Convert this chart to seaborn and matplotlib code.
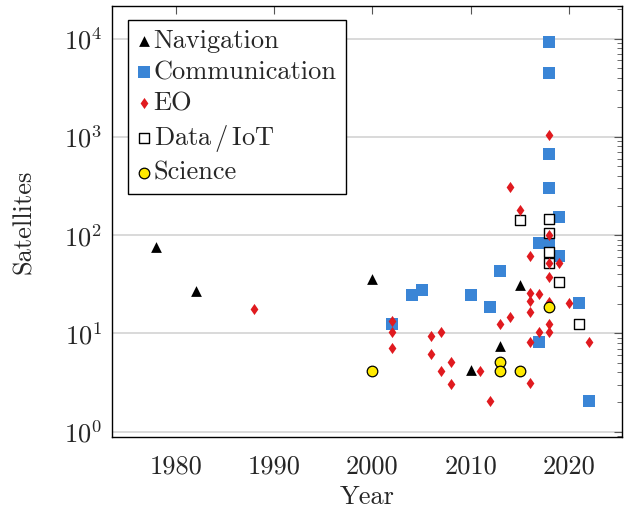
import matplotlib
matplotlib.use("Agg")
import matplotlib.pyplot as plt
import seaborn as sns
from matplotlib.ticker import LogLocator, NullFormatter

# ---------------- data ----------------
nav_years = [1978, 1982, 2000, 2010, 2013, 2015]
nav_sats = [75, 27, 36, 4.2, 7.4, 31]

comm_years = [2002, 2004, 2005, 2010, 2012, 2013, 2017, 2017, 2018, 2018,
              2018, 2018, 2018, 2019, 2019, 2021, 2022]
comm_sats = [12.3, 24.8, 27.5, 24.5, 18.5, 43, 8.2, 83, 83, 9300,
             4500, 670, 300, 153, 61, 20.5, 2.05]

eo_years = [1988, 2002, 2002, 2002, 2006, 2006, 2007, 2007, 2008, 2008,
            2011, 2012, 2013, 2014, 2014, 2015, 2016, 2016, 2016, 2016,
            2016, 2016, 2017, 2017, 2018, 2018, 2018, 2018, 2018, 2018,
            2018, 2019, 2020, 2022]
eo_sats = [17.5, 13.4, 10.2, 7.1, 9.3, 6.2, 10.2, 4.1, 5.1, 3.07,
           4.1, 2.05, 12.3, 310, 14.5, 180, 61, 26, 21.5, 16.5,
           8.2, 3.1, 25, 10.3, 1050, 100, 52, 37.5, 21, 12.5,
           10.3, 52, 20.5, 8.2]

iot_years = [2015, 2018, 2018, 2018, 2018, 2019, 2021]
iot_sats = [142, 145, 105, 67, 52, 33, 12.3]

sci_years = [2000, 2013, 2013, 2015, 2018]
sci_sats = [4.1, 5.1, 4.1, 4.1, 18.5]

categories = ["Navigation", "Communication", "EO", "Data / IoT", "Science"]
legend_labels = ["Navigation", "Communication", "EO", r"Data$\,/\,$IoT", "Science"]
x_ticks = [1980, 1990, 2000, 2010, 2020]

# ---------------- style ----------------
sns.set_theme(style="white")
plt.rcParams["font.family"] = ["cmr10", "DejaVu Serif"]
plt.rcParams["mathtext.fontset"] = "cm"
plt.rcParams["axes.formatter.use_mathtext"] = True
FS = 19

fig = plt.figure(figsize=(6.24, 5.11), dpi=100)
ax = fig.add_axes([112 / 624, (511 - 437) / 511, (622 - 112) / 624, (437 - 6) / 511])

blue = "#3a85d6"
red = "#e01a1f"
yellow = "#ffea00"
diamond = [(0, 1), (0.7, 0), (0, -1), (-0.7, 0), (0, 1)]

sns.scatterplot(x=nav_years, y=nav_sats, marker="^", s=60, color="black",
                linewidth=0, ax=ax, label=categories[0], zorder=3)
sns.scatterplot(x=comm_years, y=comm_sats, marker="s", s=66, color=blue,
                linewidth=0, ax=ax, label=categories[1], zorder=3)
sns.scatterplot(x=iot_years, y=iot_sats, marker="s", s=60, facecolor="white",
                edgecolor="black", linewidth=1.0, ax=ax, label=categories[3], zorder=4)
sns.scatterplot(x=eo_years, y=eo_sats, marker=diamond, s=64, color=red,
                linewidth=0, ax=ax, label=categories[2], zorder=5)
sns.scatterplot(x=sci_years, y=sci_sats, marker="o", s=58, facecolor=yellow,
                edgecolor="black", linewidth=0.9, ax=ax, label=categories[4], zorder=6)

ax.set_yscale("log")
ax.set_ylim(0.88, 21500)
ax.set_xlim(1973.5, 2025.4)
ax.set_xticks(x_ticks)
ax.set_xticklabels([str(t) for t in x_ticks])
ax.yaxis.set_major_locator(LogLocator(base=10, numticks=10))
ax.yaxis.set_minor_locator(LogLocator(base=10, subs=range(2, 10), numticks=20))
ax.yaxis.set_minor_formatter(NullFormatter())

ax.tick_params(which="both", direction="in", top=True, right=True,
               labelsize=FS, color="#555555")
ax.tick_params(which="major", length=6, width=0.8)
ax.tick_params(which="minor", length=3.5, width=0.6)
ax.tick_params(axis="x", which="major", pad=13)
ax.tick_params(axis="y", which="major", pad=7)

ax.yaxis.grid(True, which="major", color="#d0d0d0", linewidth=1.1)
ax.xaxis.grid(False)
ax.set_axisbelow(True)
for sp in ax.spines.values():
    sp.set_color("black")
    sp.set_linewidth(1.0)

ax.set_xlabel("Year", fontsize=FS, labelpad=5)
ax.set_ylabel("Satellites", fontsize=FS, labelpad=20)

handles, labels = ax.get_legend_handles_labels()
order = [labels.index(c) for c in categories]
leg = ax.legend([handles[i] for i in order], legend_labels,
                loc="upper left", bbox_to_anchor=((128 - 112) / 510, 1 - (20 - 6) / 431),
                borderaxespad=0, fontsize=FS, frameon=True, fancybox=False,
                edgecolor="black", framealpha=1, handlelength=0.5,
                handletextpad=0.12, borderpad=0.35, labelspacing=0.28)
leg.get_frame().set_linewidth(1.0)

fig.savefig("out.png", dpi=100)
